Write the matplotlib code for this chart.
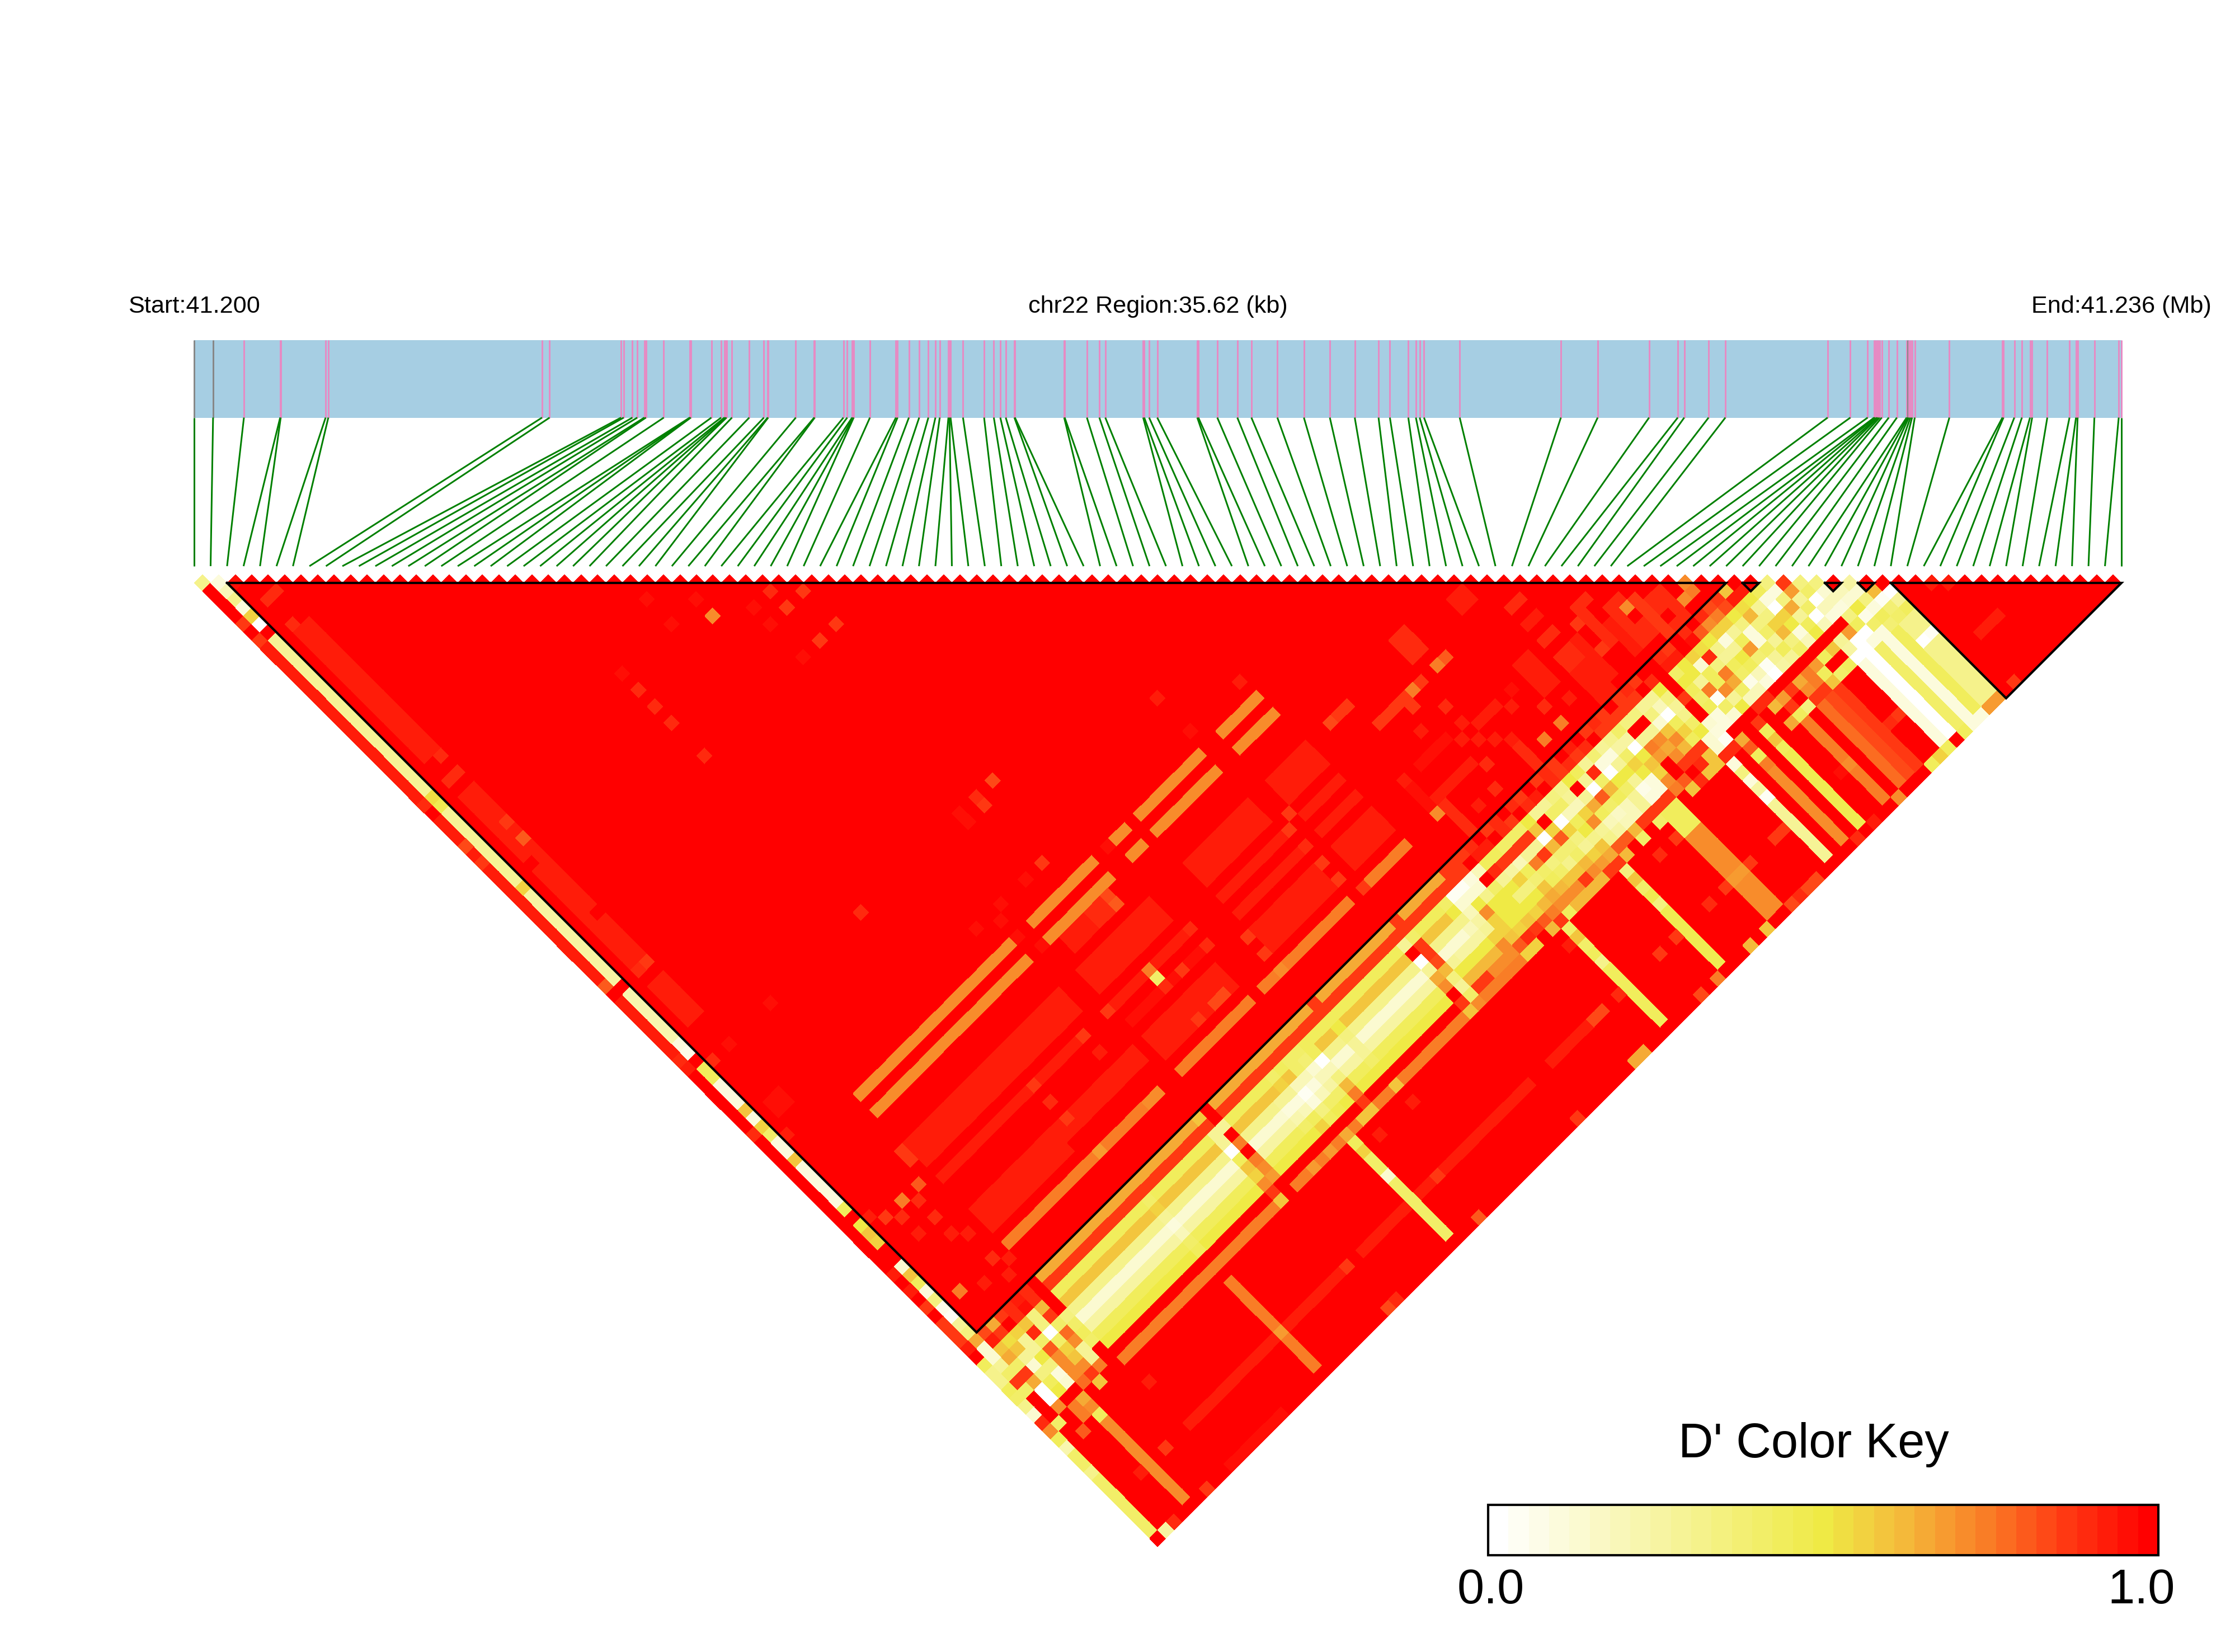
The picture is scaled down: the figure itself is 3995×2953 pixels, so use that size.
import numpy as np
import matplotlib

matplotlib.use("Agg")
import matplotlib.pyplot as plt
from matplotlib.colors import LinearSegmentedColormap
from matplotlib.patches import Rectangle

plt.rcParams["font.family"] = ["Liberation Sans", "DejaVu Sans"]

# SNP positions along the region, kb from the start
snp_kb = [
    0.00, 0.35, 0.92, 1.59, 1.60, 2.43, 2.48, 6.43, 6.57, 7.89, 7.94, 8.10, 8.19, 8.32, 8.35, 8.68,
    9.16, 9.17, 9.18, 9.56, 9.74, 9.80, 9.82, 9.84, 9.94, 10.26, 10.53, 10.60, 10.61, 11.12, 11.46,
    11.47, 12.00, 12.07, 12.16, 12.18, 12.19, 12.49, 12.97, 13.00, 13.21, 13.40, 13.57, 13.70, 13.78,
    13.94, 13.96, 13.98, 14.21, 14.60, 14.78, 14.90, 15.00, 15.16, 15.17, 16.08, 16.09, 16.50, 16.73,
    16.84, 17.54, 17.56, 17.65, 17.80, 18.54, 18.56, 18.91, 19.28, 19.54, 20.02, 20.51, 20.99, 21.45,
    21.89, 22.10, 22.44, 22.58, 22.65, 22.73, 23.39, 25.26, 25.94, 26.89, 27.42, 27.54, 27.99, 28.30,
    30.19, 30.61, 30.93, 31.05, 31.07, 31.10, 31.12, 31.15, 31.19, 31.32, 31.47, 31.65, 31.67, 31.69,
    31.72, 31.75, 31.80, 32.44, 33.42, 33.44, 33.64, 33.78, 33.93, 33.97, 34.25, 34.66, 34.78, 34.81,
    35.12, 35.57, 35.62,
]
region_kb = 35.62
gray_snps = [0, 1, 99]
blocks = [(2, 93), (94, 95), (99, 100), (101, 102), (103, 117)]

# D' colour key anchors
key_stops = [0.0, 0.5, 0.625, 0.75, 0.875, 1.0]
key_colors = ["#FFFFFF", "#EFEA45", "#F4B93A", "#F97D26", "#FF3812", "#FF0000"]

# D' rectangles: first i, last i, first j, last j, value
rects = [
    (3, 4, 10, 25, 0.93), (3, 4, 30, 50, 0.93), (3, 4, 53, 57, 0.93), (3, 4, 6, 6, 0.90),
    (3, 4, 67, 68, 0.95), (9, 27, 78, 80, 0.92), (30, 38, 78, 80, 0.92), (43, 50, 78, 80, 0.92),
    (53, 57, 78, 80, 0.92), (9, 26, 82, 82, 0.93), (30, 38, 82, 82, 0.93), (43, 50, 82, 82, 0.93),
    (53, 57, 82, 82, 0.92), (9, 28, 84, 84, 0.97), (30, 38, 84, 84, 0.95), (43, 50, 84, 84, 0.93),
    (53, 57, 84, 84, 0.93), (9, 28, 86, 87, 0.93), (9, 18, 88, 88, 0.93), (30, 38, 86, 88, 0.93),
    (43, 50, 86, 88, 0.93), (53, 57, 86, 88, 0.93), (31, 33, 75, 76, 0.92), (34, 35, 75, 76, 0.88),
    (26, 26, 61, 62, 0.97), (32, 32, 61, 62, 0.95), (75, 76, 78, 79, 0.93), (78, 79, 82, 82, 0.88),
    (78, 79, 84, 84, 0.93), (78, 79, 86, 86, 0.90), (78, 79, 88, 89, 0.88), (75, 76, 86, 89, 0.93),
    (78, 79, 90, 93, 0.93), (69, 70, 77, 79, 0.88), (63, 66, 81, 81, 0.85), (60, 62, 78, 78, 0.87),
    (87, 88, 90, 91, 0.88), (85, 86, 91, 92, 0.88), (89, 90, 92, 92, 0.75),
    (82, 82, 86, 90, 0.88), (84, 84, 88, 92, 0.88), (86, 86, 89, 93, 0.87), (83, 83, 89, 92, 0.93),
    (70, 71, 87, 87, 0.93), (70, 70, 90, 93, 0.88), (63, 66, 86, 86, 0.95), (62, 66, 89, 89, 0.92),
    (61, 61, 87, 89, 0.95), (62, 62, 90, 93, 0.88), (88, 88, 92, 93, 0.90), (80, 80, 88, 92, 0.93),
    (5, 6, 86, 90, 0.97), (3, 7, 77, 79, 0.97),
    (53, 57, 72, 72, 0.72), (53, 57, 74, 74, 0.72),
    (1, 1, 9, 27, 0.28), (1, 1, 30, 38, 0.30), (1, 1, 40, 50, 0.25), (1, 1, 52, 57, 0.22),
    (1, 1, 63, 65, 0.10), (1, 1, 70, 71, 0.10), (1, 1, 73, 77, 0.10),
    (0, 0, 9, 27, 0.93), (0, 0, 30, 49, 0.93), (0, 0, 52, 58, 0.93),
    (107, 107, 112, 112, 0.93), (105, 106, 112, 112, 0.93),
]

# stripes of constant j: j, first i, last i, value
j_strips = [
    (72, 9, 27, 0.72), (72, 30, 37, 0.70), (72, 40, 41, 0.72), (72, 43, 50, 0.72),
    (74, 9, 27, 0.72), (74, 30, 37, 0.70), (74, 40, 41, 0.72), (74, 44, 50, 0.72), (74, 43, 43, 0.72),
    (90, 9, 27, 0.75), (90, 30, 38, 0.75), (90, 40, 50, 0.75), (90, 53, 57, 0.75),
    (104, 9, 35, 0.75), (104, 36, 36, 0.65), (104, 37, 37, 0.75), (104, 40, 41, 0.75),
    (104, 43, 50, 0.75), (104, 53, 57, 0.75),
    (112, 9, 19, 0.92), (112, 21, 27, 0.92), (112, 30, 35, 0.92), (112, 37, 50, 0.92),
    (112, 53, 57, 0.92), (112, 58, 59, 0.82), (117, 9, 15, 0.95), (117, 58, 59, 0.65),
]

# stripes of constant i: i, first j, last j, value
i_strips = [
    (4, 107, 116, 0.72), (20, 106, 116, 0.75), (36, 105, 116, 0.42), (62, 105, 116, 0.45),
    (69, 105, 116, 0.46), (75, 107, 116, 0.72), (76, 107, 116, 0.72), (82, 107, 116, 0.30),
    (84, 105, 116, 0.72), (86, 105, 116, 0.47), (89, 107, 116, 0.75), (91, 107, 116, 0.78),
    (92, 107, 116, 0.82), (93, 107, 116, 0.85), (96, 107, 116, 0.12), (97, 107, 116, 0.02),
    (98, 107, 116, 0.42), (99, 107, 116, 0.12), (100, 107, 116, 0.45), (101, 107, 116, 0.33),
    (102, 107, 116, 0.33),
]

# yellow band, D' for j = 94 .. 103 where no row table below replaces it
band_j_start = 94
band_default = [0.65, 0.85, 0.45, 0.60, 0.33, 0.15, 0.25, 0.45, 0.50, 1.0]
band_default_rows = (9, 50)

# D' rows starting at j = 94, read cell by cell
band_rows = {
    2: [0.82, 0.92, 0.60, 0.65, 0.42, 0.85, 0.65, 0.02, 0.00, 0.72, 1.0, 1.0, 0.80],
    3: [0.65, 0.85, 0.52, 0.60, 0.30, 0.15, 0.35, 0.45, 0.50, 1.0, 0.75, 0.75, 1.0],
    4: [0.87, 1.0, 0.55, 0.30, 0.28, 0.50, 0.35, 0.12, 0.15, 1.0, 0.65, 0.72, 0.45],
    5: [0.90, 0.90, 0.58, 0.88, 0.42, 0.80, 0.70, 0.70, 0.70, 0.78, 1.0, 1.0, 1.0],
    6: [0.92, 0.95, 0.35, 0.35, 0.03, 0.40, 0.55, 0.60, 0.72, 0.87, 0.60, 1.0, 1.0],
    7: [0.88, 0.90, 0.62, 0.85, 0.42, 0.78, 0.72, 0.30, 0.30, 0.75, 1.0, 1.0, 1.0],
    8: [1.0, 1.0, 1.0, 1.0, 0.35, 0.42, 0.45, 0.42, 1.0, 1.0, 1.0, 1.0, 1.0],
    20: [0.65, 0.85, 0.42, 0.55, 0.30, 0.12, 0.20, 0.40, 0.45, 1.0],
    28: [0.60, 0.87, 0.30, 0.30, 0.00, 0.45, 0.60, 0.55, 0.72, 0.87, 0.60],
    29: [1.0, 1.0, 0.30, 1.0, 0.75, 1.0, 0.75, 0.72, 0.68, 1.0, 1.0],
    34: [0.65, 0.85, 0.45, 0.60, 0.30, 0.10, 0.22, 0.42, 0.50, 1.0, 0.68],
    35: [0.65, 0.85, 0.42, 0.55, 0.30, 0.10, 0.20, 0.45, 0.55, 1.0, 0.75],
    36: [0.65, 0.85, 0.45, 0.60, 0.20, 0.05, 0.12, 0.35, 0.45, 1.0, 0.65],
    37: [0.65, 0.85, 0.42, 0.40, 0.20, 0.12, 0.20, 0.40, 0.48, 1.0, 0.75],
    38: [0.65, 0.85, 0.42, 0.38, 0.15, 0.20, 0.25, 0.40, 0.50, 1.0, 0.60],
    39: [0.65, 0.85, 0.45, 0.45, 0.03, 0.20, 0.35, 0.62, 0.75, 0.87, 0.60],
    42: [0.87, 0.85, 0.45, 0.50, 0.35, 0.30, 0.30, 0.40, 0.50, 1.0, 0.60],
    51: [0.65, 0.85, 0.30, 1.0, 0.03, 0.30, 0.65, 0.70, 1.0, 0.87, 0.60],
    52: [0.87, 0.87, 0.40, 0.85, 0.85, 0.82, 0.62, 0.35, 0.30, 0.40, 0.72],
    53: [0.65, 0.85, 0.45, 0.60, 0.33, 0.15, 0.30, 0.50, 0.62, 0.85],
    54: [0.65, 0.85, 0.45, 0.60, 0.33, 0.15, 0.25, 0.50, 0.62, 0.87],
    55: [0.65, 0.85, 0.45, 0.60, 0.33, 0.15, 0.25, 0.50, 0.62, 0.72],
    56: [0.65, 0.85, 0.40, 0.50, 0.33, 0.20, 0.25, 0.50, 0.62, 0.72],
    57: [0.65, 0.85, 0.05, 0.15, 0.20, 0.25, 0.30, 0.55, 0.70, 0.72],
    58: [0.85, 0.87, 0.05, 0.15, 0.50, 0.70, 0.55, 0.55, 0.60, 0.80, 0.55],
    59: [0.87, 0.87, 0.10, 0.15, 0.33, 0.50, 0.50, 0.50, 0.55, 0.90, 0.55],
    60: [0.87, 1.0, 0.20, 1.0, 0.40, 0.50, 0.50, 0.50, 0.60, 0.85, 1.0],
    61: [0.90, 0.92, 0.45, 0.90, 0.30, 0.50, 0.35, 0.50, 0.55, 0.80, 0.62],
    62: [1.0, 0.92, 0.45, 0.87, 0.25, 0.55, 0.35, 0.50, 0.62, 0.75, 0.87],
    63: [0.87, 1.0, 0.40, 0.87, 0.20, 0.45, 0.38, 0.60, 0.65, 0.72, 0.45],
    64: [0.90, 0.90, 0.40, 0.87, 0.30, 0.75, 0.40, 0.45, 0.62, 0.70, 0.62],
    65: [1.0, 0.87, 0.40, 0.87, 0.30, 0.85, 0.35, 0.40, 0.60, 0.70, 0.62],
    66: [0.90, 1.0, 0.50, 0.60, 0.02, 0.62, 0.38, 0.33, 0.60, 0.87, 0.62],
    67: [0.87, 0.90, 0.30, 1.0, 0.55, 0.80, 0.38, 0.42, 0.62, 0.70, 0.62],
    68: [1.0, 0.92, 0.30, 0.42, 0.02, 0.55, 0.35, 0.30, 0.55, 0.68, 0.87],
    69: [0.87, 1.0, 0.35, 0.42, 0.20, 0.45, 0.50, 0.33, 0.58, 0.65, 0.87],
    70: [0.90, 0.90, 0.32, 0.30, 0.20, 0.55, 0.70, 0.30, 0.33, 0.80, 0.62],
    71: [0.87, 0.87, 0.50, 1.0, 0.30, 0.65, 0.45, 0.20, 0.25, 0.80, 1.0],
    72: [1.0, 0.90, 0.45, 0.30, 0.02, 0.80, 0.40, 0.18, 0.20, 0.62, 0.42],
    73: [0.92, 0.87, 0.30, 0.90, 0.40, 0.62, 0.45, 0.20, 0.20, 0.87, 1.0],
    74: [1.0, 0.90, 0.38, 0.12, 0.02, 0.50, 0.40, 0.30, 0.28, 0.87, 0.40],
    75: [0.87, 1.0, 0.30, 0.12, 0.30, 0.50, 0.30, 0.08, 0.10, 0.87, 0.45, 0.45, 0.45],
    76: [0.90, 0.87, 0.32, 0.25, 0.40, 0.55, 0.50, 0.10, 0.12, 0.87, 0.45, 0.45, 0.45],
    77: [0.87, 0.87, 0.40, 0.25, 0.02, 0.50, 0.60, 0.55, 0.70, 0.75, 1.0],
    78: [1.0, 0.87, 0.35, 1.0, 0.30, 0.75, 0.68, 1.0, 1.0, 0.80, 0.60],
    79: [0.87, 0.87, 0.35, 1.0, 0.30, 0.70, 0.65, 0.70, 0.87, 1.0, 0.90],
    80: [0.90, 0.87, 0.30, 0.35, 0.15, 0.60, 0.70, 0.62, 0.85, 0.90, 0.60],
    81: [0.87, 1.0, 0.30, 0.20, 0.02, 0.45, 0.55, 0.45, 0.87, 0.60, 0.60],
    82: [1.0, 0.90, 0.50, 0.35, 0.30, 0.33, 0.42, 0.50, 0.15, 0.15, 0.90, 0.10, 0.35],
    83: [1.0, 1.0, 1.0, 1.0, 0.87, 1.0, 1.0, 0.15, 0.10, 0.05, 0.90],
    84: [0.90, 0.92, 0.40, 0.50, 0.45, 0.40, 0.45, 0.12, 0.10, 1.0, 0.65, 0.80, 0.45, 0.75],
    85: [0.87, 0.92, 0.50, 0.50, 0.30, 0.75, 0.05, 0.40, 0.15, 1.0, 1.0],
    86: [1.0, 1.0, 0.55, 0.15, 0.45, 0.45, 0.70, 0.30, 0.50, 1.0, 0.87, 0.45, 0.60, 0.45],
    87: [0.90, 0.95, 0.52, 0.88, 0.35, 0.75, 0.65, 0.40, 0.20, 0.90, 1.0],
    88: [1.0, 0.80, 0.50, 0.33, 0.30, 0.45, 0.40, 0.08, 0.20, 0.90, 0.62, 1.0, 0.65],
    89: [0.90, 0.72, 0.55, 0.10, 0.30, 0.50, 0.45, 0.20, 0.10, 1.0, 0.68, 0.85, 0.45],
    90: [0.82, 0.75, 0.55, 0.30, 0.45, 0.68, 0.38, 0.05, 0.02, 1.0, 0.85, 1.0, 0.35],
    91: [0.85, 0.82, 0.50, 0.35, 0.10, 0.10, 0.42, 0.30, 0.25, 1.0, 0.65, 0.72, 0.85],
    92: [0.60, 0.92, 0.52, 0.62, 0.35, 0.42, 0.30, 0.45, 0.30, 1.0, 0.75, 0.75, 0.87],
    93: [1.0, 0.92, 0.50, 0.30, 0.35, 0.55, 0.62, 0.35, 0.40, 1.0, 0.68, 0.45, 0.60],
    94: [1.0, 1.0, 0.45, 0.10, 0.02, 0.55, 0.50, 0.10, 0.20, 1.0, 0.45, 1.0, 0.40],
    95: [None, None, 0.35, 0.12, 0.35, 0.65, 0.30, 0.45, 0.50, 1.0, 0.60, 1.0, 0.45],
    96: [None, None, None, 0.87, 0.68, 0.30, 0.40, 0.03, 0.20, 1.0, 0.30, 0.25, 0.02],
    97: [None, None, None, None, 0.35, 0.40, 0.02, 0.20, 0.12, 1.0, 0.68, 0.02, 0.02],
    98: [None, None, None, None, None, 0.35, 0.15, 0.20, 0.12, 0.35, 0.45, 0.02, 0.10],
    99: [None, None, None, None, None, None, 1.0, 0.20, 0.15, 0.50, 0.08, 0.40, 0.10],
    100: [None, None, None, None, None, None, None, 0.25, 0.15, 0.35, 0.10, 0.45, 0.38],
    101: [None, None, None, None, None, None, None, None, 1.0, 0.62, 0.05, 0.38, 0.40],
    102: [None, None, None, None, None, None, None, None, None, 1.0, 0.02, 0.30, 0.45],
}

# single cells: i, j, value
cells = [
    (0, 1, 0.33), (1, 2, 0.10), (2, 3, 0.95), (90, 91, 0.72), (105, 106, 0.93), (106, 107, 0.93),
    (1, 3, 0.20), (1, 4, 0.33), (1, 5, 0.10), (1, 6, 0.55), (1, 7, 0.02), (1, 28, 0.52), (1, 29, 0.47),
    (1, 39, 0.55), (1, 50, 0.25), (1, 58, 0.10), (1, 59, 0.08), (1, 61, 0.45), (1, 62, 0.45),
    (1, 66, 0.58), (1, 67, 0.10), (1, 68, 0.55), (1, 69, 0.40), (1, 72, 0.60), (1, 78, 0.45),
    (1, 80, 0.50), (1, 81, 0.60), (1, 82, 0.55), (1, 85, 0.15), (1, 86, 0.60), (1, 87, 0.45),
    (1, 88, 0.10), (1, 89, 0.35), (1, 90, 0.08), (1, 91, 0.05), (1, 92, 0.30), (1, 93, 0.35),
    (1, 94, 0.65), (1, 95, 0.15), (1, 96, 0.15), (1, 97, 0.30), (1, 98, 0.42), (1, 99, 0.85),
    (1, 100, 0.40), (1, 104, 0.40), (1, 117, 0.25),
    (0, 6, 0.87), (0, 8, 0.87), (0, 28, 0.88), (0, 33, 0.82), (0, 35, 0.85), (0, 50, 0.80),
    (0, 59, 0.88), (0, 60, 0.92), (0, 68, 0.90), (0, 85, 0.92), (0, 87, 0.92), (0, 89, 0.85),
    (0, 91, 0.87), (0, 92, 0.87), (0, 93, 0.87), (0, 94, 0.92), (0, 96, 0.45), (0, 97, 0.33),
    (0, 98, 0.33), (0, 99, 0.45), (0, 100, 0.40), (0, 101, 0.33), (0, 102, 0.15), (0, 103, 0.90),
    (0, 104, 0.72), (0, 105, 0.45), (0, 106, 0.22), (0, 107, 0.42), (0, 108, 0.42), (0, 109, 0.33),
    (0, 110, 0.42), (0, 111, 0.42), (0, 112, 0.42), (0, 113, 0.42), (0, 114, 0.42), (0, 115, 0.42),
    (0, 116, 0.42),
    (2, 117, 0.90), (6, 117, 0.85), (28, 117, 0.82), (29, 117, 0.90), (39, 117, 0.80), (51, 117, 0.87),
    (66, 117, 0.82), (68, 117, 0.75), (72, 117, 0.62), (74, 117, 0.60), (77, 117, 0.82), (78, 117, 0.90),
    (79, 117, 0.82), (80, 117, 0.82), (85, 117, 0.90), (87, 117, 0.92), (90, 117, 0.72), (94, 117, 0.45),
    (95, 117, 0.55), (96, 117, 0.45), (98, 117, 0.45), (99, 117, 0.12), (100, 117, 0.12), (101, 117, 0.68),
    (102, 117, 0.68), (104, 117, 0.85),
    (3, 112, 0.93), (6, 112, 0.85), (9, 107, 0.93), (20, 112, 0.68), (28, 112, 0.85), (39, 112, 0.85),
    (38, 106, 0.93), (42, 106, 0.93), (61, 106, 0.92), (61, 112, 0.90), (66, 112, 0.87), (68, 112, 0.87),
    (72, 112, 0.88), (72, 106, 0.88), (74, 106, 0.87), (74, 112, 0.87), (75, 112, 0.68), (76, 112, 0.68),
    (77, 112, 0.87), (80, 112, 0.87), (81, 112, 0.87), (88, 112, 0.95), (89, 112, 0.70), (94, 112, 0.90),
    (95, 112, 0.85), (84, 106, 0.45), (84, 107, 0.75), (69, 105, 0.35), (69, 106, 0.60), (69, 107, 0.40),
    (69, 109, 0.35), (62, 105, 0.40), (62, 106, 0.60), (62, 107, 0.40), (62, 109, 0.33), (36, 105, 0.45),
    (36, 106, 0.55), (36, 109, 0.15), (82, 105, 0.10), (82, 106, 0.35), (82, 107, 0.12), (82, 108, 0.25),
    (82, 109, 0.05), (102, 109, 0.05), (101, 109, 0.03), (3, 9, 0.88), (4, 26, 0.90), (3, 28, 0.90),
    (4, 28, 0.88), (4, 34, 0.85), (4, 36, 0.80), (4, 51, 0.85), (3, 51, 0.88), (3, 38, 1.0), (4, 45, 1.0),
    (2, 61, 0.90), (2, 70, 0.92), (9, 20, 0.97), (9, 26, 0.97), (9, 32, 0.97), (9, 34, 0.97), (9, 36, 0.97),
    (9, 38, 0.97), (9, 42, 0.97), (20, 26, 0.97), (20, 32, 0.96), (20, 34, 0.90), (20, 36, 0.90),
    (20, 38, 0.90), (20, 42, 0.88), (26, 29, 0.96), (26, 32, 0.96), (26, 34, 0.97), (26, 36, 0.97),
    (26, 38, 0.97), (26, 42, 0.97), (29, 32, 0.96), (29, 34, 0.72), (32, 34, 0.97), (32, 36, 0.96),
    (32, 38, 0.96), (34, 36, 0.88), (34, 38, 0.87), (36, 38, 0.85), (36, 42, 0.85), (34, 42, 0.87),
    (32, 42, 0.95), (36, 61, 0.83), (34, 61, 0.88), (34, 62, 0.85), (29, 62, 0.97), (20, 61, 0.90),
    (9, 61, 0.96), (4, 61, 0.96), (34, 69, 0.85), (32, 69, 0.95), (29, 69, 0.96), (28, 70, 0.96),
    (26, 69, 0.96), (51, 66, 0.93), (51, 70, 0.95), (39, 70, 0.97), (39, 72, 0.96), (28, 72, 0.96),
    (29, 74, 0.96), (36, 75, 0.82), (36, 76, 0.80), (34, 83, 0.42), (34, 82, 0.75), (34, 84, 0.88),
    (36, 84, 0.85), (39, 82, 0.88), (39, 84, 0.90), (29, 82, 0.85), (26, 82, 0.85), (20, 82, 0.87),
    (20, 84, 0.90), (26, 84, 0.93), (20, 86, 0.87), (36, 88, 0.82), (37, 88, 0.82), (34, 88, 0.85),
    (20, 90, 0.68), (26, 90, 0.70), (27, 90, 0.70), (42, 90, 0.70), (51, 82, 0.87), (52, 81, 0.85),
    (51, 84, 0.90), (51, 86, 0.87), (51, 88, 0.87), (52, 90, 0.87), (42, 88, 0.85), (42, 86, 0.85),
    (70, 81, 0.75), (71, 81, 0.80), (67, 81, 0.75), (66, 82, 0.87), (68, 81, 0.87), (60, 78, 0.82),
    (85, 89, 0.70), (81, 87, 0.85), (79, 95, 0.87), (3, 90, 0.75), (7, 90, 0.90), (6, 84, 0.90),
    (4, 82, 0.90), (5, 81, 0.75), (6, 82, 0.88), (7, 81, 0.80), (8, 78, 0.85), (8, 79, 0.85),
    (3, 81, 0.85), (2, 80, 0.92), (57, 70, 0.92),
    (74, 92, 0.75), (72, 92, 0.75), (68, 86, 0.92), (69, 87, 0.92), (69, 89, 0.92), (70, 90, 0.92),
    (68, 88, 0.92), (67, 87, 0.92), (67, 90, 0.90), (73, 87, 0.95), (68, 84, 0.90), (61, 86, 0.92),
    (61, 90, 0.72), (81, 90, 0.85), (85, 88, 0.90), (83, 86, 0.90), (89, 92, 0.70), (87, 93, 0.88),
    (72, 88, 0.92), (74, 90, 0.90), (76, 91, 0.92), (66, 92, 0.90), (64, 92, 0.92), (65, 84, 0.93),
    (6, 86, 0.93), (7, 87, 0.93), (5, 91, 0.93), (7, 92, 0.93), (8, 91, 0.92), (4, 84, 0.92),
]

N_SNP = len(snp_kb)

ld = np.ma.masked_all((N_SNP, N_SNP))
for a in range(N_SNP):
    ld[a, a + 1:] = 1.0
for i0, i1, j0, j1, val in rects:
    ld[i0:i1 + 1, j0:j1 + 1] = val
for j, i0, i1, val in j_strips:
    ld[i0:i1 + 1, j] = val
for i, j0, j1, val in i_strips:
    ld[i, j0:j1 + 1] = val
for k, val in enumerate(band_default):
    ld[band_default_rows[0]:band_default_rows[1] + 1, band_j_start + k] = val
for i, row in band_rows.items():
    for k, val in enumerate(row):
        if val is not None:
            ld[i, band_j_start + k] = val
# orange stripe j=104 cells that interrupt the run
for i, val in [(28, 0.60), (29, 1.0), (32, 0.68), (34, 0.68), (38, 0.60), (39, 0.60), (42, 0.60),
               (51, 0.60), (52, 0.72)]:
    ld[i, 104] = val
for i, j, val in cells:
    ld[i, j] = val
# pairs below the diagonal stay masked
ld[np.tril_indices(N_SNP)] = np.ma.masked

cmap = LinearSegmentedColormap.from_list("dprime", list(zip(key_stops, key_colors)), N=33)

# page layout in output pixels
W, H = 3995, 2953
LEFT, RIGHT = 347.0, 3792.0
BAR_TOP, BAR_BOTTOM = 607.5, 746.5
LINK_BOTTOM = 1012.0
HEAT_TOP = 1042.0
SNP_STEP = (RIGHT - LEFT) / (N_SNP - 1)
HALF = SNP_STEP / 2


def kb_to_px(kb):
    return LEFT + np.asarray(kb) / region_kb * (RIGHT - LEFT)


fig = plt.figure(figsize=(W / 300, H / 300), dpi=300)
ax = fig.add_axes([0, 0, 1, 1])
ax.set_xlim(0, W)
ax.set_ylim(H, 0)
ax.axis("off")

# gene bar with a tick per SNP
ax.add_patch(Rectangle((LEFT, BAR_TOP), RIGHT - LEFT, BAR_BOTTOM - BAR_TOP, fc="#A6CEE3", ec="none"))
bar_x = kb_to_px(snp_kb)
for k, x in enumerate(bar_x):
    col = "#868686" if k in gray_snps else "#E78AC3"
    ax.plot([x, x], [BAR_TOP, BAR_BOTTOM], color=col, lw=0.7, solid_capstyle="butt")

# links from the bar to the evenly spaced heatmap columns
even_x = LEFT + SNP_STEP * np.arange(N_SNP)
for top_x, bottom_x in zip(bar_x, even_x):
    ax.plot([top_x, bottom_x], [BAR_BOTTOM, LINK_BOTTOM], color="#008000", lw=0.72, solid_capstyle="butt")

# rotated D' mesh: cell (i, j) sits below the midpoint of SNPs i and j
aa, bb = np.meshgrid(np.arange(N_SNP + 1), np.arange(N_SNP + 1), indexing="ij")
mesh_x = LEFT + HALF * (aa + bb - 1)
mesh_y = HEAT_TOP + HALF * (bb - aa - 1)
ax.pcolormesh(mesh_x, mesh_y, ld, cmap=cmap, vmin=0, vmax=1, shading="flat",
              edgecolors="none", antialiased=False, rasterized=False)

# LD block outlines
for a, b in blocks:
    xa, xb = even_x[a], even_x[b]
    tip = (xa + xb) / 2
    ax.plot([xa, xb, tip, xa], [HEAT_TOP, HEAT_TOP, HEAT_TOP + HALF * (b - a), HEAT_TOP],
            color="black", lw=1.0, solid_joinstyle="miter")

# header text
label_y = 548
ax.text(LEFT, label_y, "Start:41.200", ha="center", va="center", fontsize=10.4)
ax.text((LEFT + RIGHT) / 2, label_y, "chr22 Region:35.62 (kb)", ha="center", va="center", fontsize=10.4)
ax.text(RIGHT, label_y, "End:41.236 (Mb)", ha="center", va="center", fontsize=10.4)

# colour key
KEY_L, KEY_R, KEY_T, KEY_B = 2660, 3858, 2690, 2780
key_edges = np.linspace(KEY_L, KEY_R, 34)
key_vals = np.linspace(0, 1, 33)[np.newaxis, :]
ax.pcolormesh(key_edges, [KEY_T, KEY_B], key_vals, cmap=cmap, vmin=0, vmax=1, antialiased=False)
ax.add_patch(Rectangle((KEY_L, KEY_T), KEY_R - KEY_L, KEY_B - KEY_T, fc="none", ec="black", lw=1.0))
ax.text(3242, 2605, "D' Color Key", ha="center", va="baseline", fontsize=20.8)
ax.text(2665, 2866, "0.0", ha="center", va="baseline", fontsize=20.8)
ax.text(3828, 2866, "1.0", ha="center", va="baseline", fontsize=20.8)

fig.savefig("out.png", dpi=300, facecolor="white")
